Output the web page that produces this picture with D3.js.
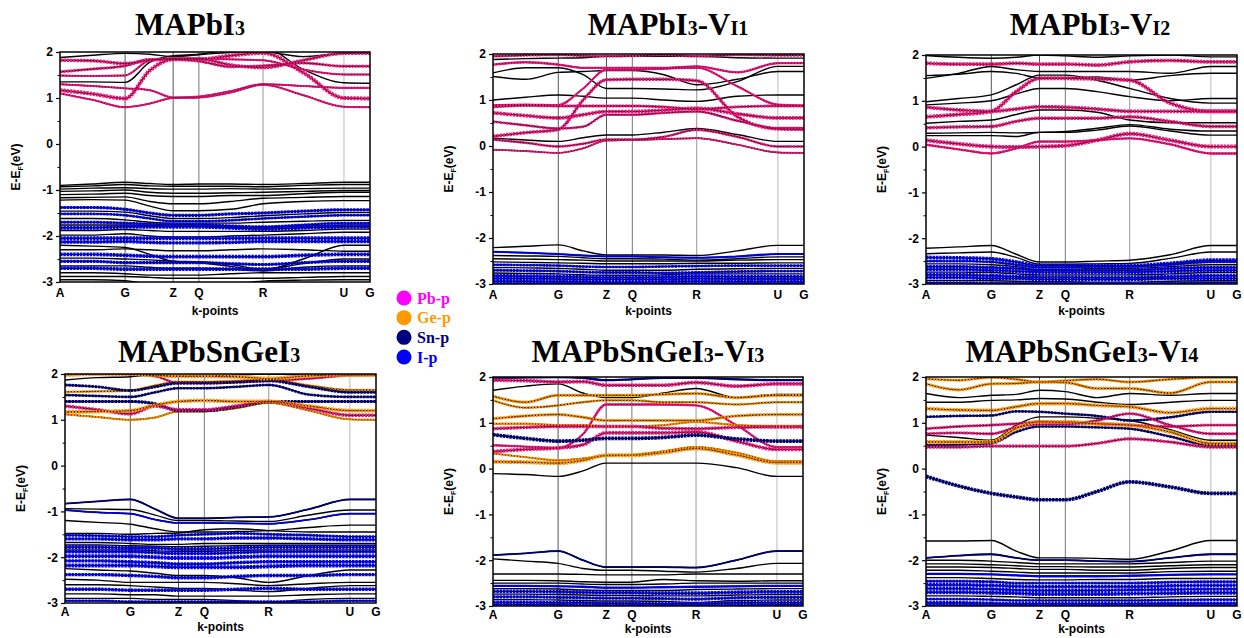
<!DOCTYPE html>
<html>
<head>
<meta charset="utf-8">
<script src="https://cdn.jsdelivr.net/npm/d3@7"></script>
<style>
  body { margin: 0; background: #fff; }
  svg text { font-family: Arial, "Liberation Sans", sans-serif; font-weight: bold; }
  .title { font-family: "Times New Roman", "Liberation Serif", serif; }
  .legend text { font-family: "Times New Roman", "Liberation Serif", serif; }
</style>
</head>
<body>
<svg id="fig" width="1244" height="638"></svg>
<script>
// Positions along the k-path (fraction of path length) where band energies are sampled
const kPath = [0, 0.105, 0.21, 0.29, 0.365, 0.448, 0.55, 0.655, 0.785, 0.916, 1];
// High-symmetry points
const kLabels = ["A", "G", "Z", "Q", "R", "U", "G"];
const kLabelPos = [0, 0.21, 0.365, 0.448, 0.655, 0.916, 1];
const energyTicks = [-3, -2, -1, 0, 1, 2];
const energyMinor = [-2.5, -1.5, -0.5, 0.5, 1.5];

// Orbital projections
const orbitalKeys = ["Pb", "Ge", "Sn", "I"];
const orbitalNames = ["Pb-p", "Ge-p", "Sn-p", "I-p"];

// Each band: [projected orbital ("-" = none), orbital weight, energies (eV) at kPath]
const bandsMAPbI3 = [
  ["Pb",0.3,[1.10,0.96,0.80,0.88,1.00,1.01,1.12,1.29,1.06,0.81,0.80]],
  ["Pb",1.0,[1.17,1.09,0.99,1.60,1.84,1.84,1.92,1.98,1.55,1.00,0.99]],
  ["Pb",0.3,[1.30,1.26,1.21,1.17,1.01,1.03,1.15,1.30,1.26,1.22,1.22]],
  ["-",0,[1.35,1.35,1.34,1.78,1.92,1.95,2.05,2.10,1.62,1.33,1.32]],
  ["Pb",0.3,[1.49,1.48,1.49,1.82,1.86,1.86,1.84,1.82,1.62,1.51,1.51]],
  ["Pb",0.6,[1.57,1.63,1.70,1.84,1.84,1.80,1.68,1.70,1.76,1.69,1.69]],
  ["Pb",0.8,[1.82,1.81,1.75,1.82,1.85,1.85,1.72,1.66,1.82,1.97,1.97]],
  ["-",0,[1.88,1.93,1.97,1.95,1.90,1.94,1.99,2.00,1.90,1.97,1.97]],
  ["-",0,[-0.90,-0.87,-0.83,-0.86,-0.88,-0.87,-0.87,-0.88,-0.86,-0.83,-0.83]],
  ["-",0,[-0.93,-0.91,-0.88,-0.91,-0.92,-0.92,-0.92,-0.93,-0.90,-0.88,-0.88]],
  ["-",0,[-0.98,-0.96,-0.95,-0.97,-0.98,-0.98,-0.97,-0.98,-0.97,-0.96,-0.96]],
  ["-",0,[-1.03,-1.02,-1.00,-1.05,-1.07,-1.07,-1.06,-1.05,-1.03,-1.01,-1.01]],
  ["-",0,[-1.10,-1.09,-1.07,-1.12,-1.14,-1.14,-1.12,-1.12,-1.08,-1.05,-1.05]],
  ["-",0,[-1.17,-1.16,-1.15,-1.25,-1.30,-1.30,-1.25,-1.18,-1.16,-1.14,-1.14]],
  ["-",0,[-1.22,-1.21,-1.22,-1.35,-1.45,-1.45,-1.42,-1.30,-1.25,-1.23,-1.23]],
  ["I",0.7,[-1.38,-1.38,-1.42,-1.50,-1.55,-1.55,-1.52,-1.50,-1.46,-1.43,-1.43]],
  ["-",0,[-1.46,-1.46,-1.48,-1.56,-1.62,-1.62,-1.60,-1.56,-1.52,-1.49,-1.49]],
  ["I",0.5,[-1.52,-1.52,-1.55,-1.62,-1.68,-1.68,-1.66,-1.62,-1.58,-1.55,-1.55]],
  ["-",0,[-1.62,-1.62,-1.65,-1.70,-1.72,-1.72,-1.72,-1.70,-1.68,-1.66,-1.66]],
  ["I",0.6,[-1.70,-1.70,-1.72,-1.74,-1.75,-1.75,-1.78,-1.80,-1.76,-1.72,-1.72]],
  ["-",0,[-1.76,-1.76,-1.76,-1.77,-1.78,-1.78,-1.80,-1.82,-1.79,-1.76,-1.76]],
  ["I",1.0,[-1.82,-1.82,-1.80,-1.80,-1.80,-1.80,-1.82,-1.85,-1.82,-1.80,-1.80]],
  ["-",0,[-1.88,-1.88,-1.86,-1.88,-1.90,-1.90,-1.90,-1.90,-1.88,-1.85,-1.85]],
  ["-",0,[-1.98,-1.98,-1.95,-2.00,-2.02,-2.02,-2.00,-1.98,-1.95,-1.92,-1.92]],
  ["I",1.0,[-2.05,-2.05,-2.05,-2.05,-2.05,-2.05,-2.05,-2.05,-2.05,-2.05,-2.05]],
  ["I",0.8,[-2.13,-2.13,-2.12,-2.14,-2.15,-2.15,-2.14,-2.12,-2.12,-2.12,-2.12]],
  ["-",0,[-2.20,-2.22,-2.25,-2.40,-2.55,-2.58,-2.66,-2.74,-2.50,-2.20,-2.20]],
  ["-",0,[-2.30,-2.30,-2.28,-2.30,-2.32,-2.32,-2.30,-2.28,-2.30,-2.33,-2.33]],
  ["I",0.9,[-2.40,-2.40,-2.42,-2.44,-2.45,-2.45,-2.45,-2.45,-2.42,-2.40,-2.40]],
  ["-",0,[-2.48,-2.48,-2.50,-2.52,-2.55,-2.56,-2.62,-2.72,-2.60,-2.50,-2.50]],
  ["I",0.7,[-2.55,-2.55,-2.58,-2.58,-2.58,-2.58,-2.60,-2.62,-2.58,-2.55,-2.55]],
  ["-",0,[-2.65,-2.65,-2.65,-2.68,-2.70,-2.70,-2.72,-2.76,-2.68,-2.65,-2.65]],
  ["I",0.9,[-2.70,-2.70,-2.72,-2.72,-2.72,-2.72,-2.72,-2.72,-2.72,-2.70,-2.70]],
  ["-",0,[-2.80,-2.80,-2.82,-2.85,-2.85,-2.85,-2.82,-2.80,-2.80,-2.80,-2.80]],
  ["-",0,[-2.88,-2.88,-2.88,-2.90,-2.92,-2.92,-2.92,-2.92,-2.90,-2.88,-2.88]],
  ["-",0,[-2.95,-2.95,-2.97,-3.05,-3.10,-3.10,-3.05,-2.98,-2.96,-2.95,-2.95]]
];

const bandsVI1 = [
  ["Pb",0.2,[-0.08,-0.11,-0.15,-0.05,0.12,0.13,0.15,0.17,0.03,-0.14,-0.15]],
  ["Pb",0.5,[0.14,0.07,-0.01,0.05,0.14,0.14,0.20,0.35,0.20,-0.01,-0.01]],
  ["-",0,[0.17,0.13,0.10,0.18,0.24,0.24,0.30,0.38,0.25,0.10,0.10]],
  ["Pb",0.8,[0.21,0.29,0.36,1.00,1.44,1.45,1.45,1.42,0.64,0.37,0.36]],
  ["Pb",0.5,[0.53,0.45,0.38,0.42,0.68,0.68,0.72,0.75,0.55,0.39,0.39]],
  ["Pb",0.9,[0.72,0.66,0.61,0.68,0.75,0.75,0.78,0.82,0.70,0.61,0.61]],
  ["Pb",0.6,[0.85,0.88,0.87,0.87,0.87,0.87,0.85,0.80,0.85,0.87,0.87]],
  ["Pb",0.3,[0.89,0.90,0.89,1.25,1.66,1.66,1.68,1.70,1.30,0.90,0.88]],
  ["-",0,[1.00,1.06,1.11,1.08,1.04,1.04,1.00,0.97,1.08,1.11,1.11]],
  ["-",0,[1.51,1.45,1.60,1.62,1.64,1.64,1.55,1.33,1.45,1.62,1.62]],
  ["-",0,[1.59,1.70,1.70,1.55,1.25,1.25,1.24,1.22,1.40,1.73,1.73]],
  ["Pb",0.4,[1.77,1.82,1.77,1.70,1.70,1.70,1.70,1.73,1.60,1.80,1.80]],
  ["-",0,[1.88,1.90,1.91,1.92,1.95,1.95,1.95,1.95,1.92,1.91,1.91]],
  ["Pb",0.5,[1.95,1.97,1.98,1.96,1.95,1.96,1.98,1.95,1.98,1.97,1.97]],
  ["-",0,[-2.21,-2.18,-2.15,-2.28,-2.37,-2.37,-2.37,-2.38,-2.28,-2.16,-2.16]],
  ["I",0.3,[-2.30,-2.32,-2.35,-2.38,-2.40,-2.40,-2.42,-2.43,-2.40,-2.35,-2.35]],
  ["-",0,[-2.38,-2.39,-2.40,-2.43,-2.45,-2.45,-2.46,-2.48,-2.45,-2.41,-2.41]],
  ["-",0,[-2.45,-2.46,-2.47,-2.48,-2.50,-2.50,-2.50,-2.50,-2.48,-2.47,-2.47]],
  ["-",0,[-2.52,-2.53,-2.54,-2.55,-2.56,-2.56,-2.56,-2.55,-2.55,-2.54,-2.54]],
  ["I",0.5,[-2.58,-2.59,-2.60,-2.62,-2.63,-2.63,-2.62,-2.61,-2.60,-2.60,-2.60]],
  ["-",0,[-2.64,-2.65,-2.66,-2.68,-2.70,-2.70,-2.70,-2.68,-2.67,-2.66,-2.66]],
  ["I",0.6,[-2.70,-2.71,-2.72,-2.74,-2.75,-2.75,-2.76,-2.75,-2.73,-2.72,-2.72]],
  ["-",0,[-2.76,-2.77,-2.78,-2.80,-2.81,-2.81,-2.80,-2.78,-2.78,-2.78,-2.78]],
  ["I",1.0,[-2.82,-2.83,-2.84,-2.85,-2.86,-2.86,-2.85,-2.83,-2.84,-2.84,-2.84]],
  ["I",1.0,[-2.88,-2.88,-2.89,-2.90,-2.90,-2.90,-2.90,-2.88,-2.89,-2.89,-2.89]],
  ["I",0.8,[-2.94,-2.94,-2.95,-2.95,-2.96,-2.96,-2.95,-2.94,-2.95,-2.95,-2.95]],
  ["I",0.5,[-2.99,-2.99,-2.99,-2.99,-2.99,-2.99,-2.99,-2.99,-2.99,-2.99,-2.99]]
];

const bandsVI2 = [
  ["Pb",0.4,[0.04,-0.06,-0.15,-0.04,0.11,0.11,0.14,0.18,0.05,-0.15,-0.15]],
  ["Pb",1.0,[0.14,0.06,0.00,-0.01,0.00,0.02,0.14,0.28,0.14,0.00,0.00]],
  ["-",0,[0.24,0.24,0.24,0.22,0.31,0.31,0.36,0.45,0.34,0.25,0.25]],
  ["-",0,[0.29,0.30,0.31,0.30,0.31,0.33,0.40,0.48,0.38,0.34,0.34]],
  ["Pb",0.8,[0.41,0.43,0.44,0.55,0.62,0.62,0.62,0.65,0.55,0.44,0.44]],
  ["-",0,[0.51,0.55,0.58,0.70,0.80,0.80,0.75,0.58,0.52,0.52,0.52]],
  ["Pb",1.0,[0.65,0.70,0.77,1.20,1.49,1.49,1.48,1.45,0.95,0.77,0.77]],
  ["Pb",0.9,[0.86,0.80,0.77,0.82,0.87,0.86,0.82,0.77,0.77,0.77,0.77]],
  ["-",0,[0.91,0.95,1.00,1.15,1.27,1.27,1.20,1.09,1.00,1.05,1.05]],
  ["-",0,[0.98,1.05,1.13,1.35,1.56,1.56,1.45,1.27,1.05,0.95,0.95]],
  ["-",0,[1.49,1.60,1.75,1.68,1.64,1.64,1.64,1.64,1.60,1.75,1.75]],
  ["-",0,[1.55,1.58,1.64,1.60,1.50,1.50,1.52,1.45,1.55,1.60,1.60]],
  ["Pb",0.9,[1.82,1.80,1.80,1.82,1.80,1.80,1.78,1.85,1.88,1.85,1.85]],
  ["-",0,[1.99,1.95,1.93,1.95,2.00,1.98,1.95,1.98,2.00,1.96,1.96]],
  ["-",0,[-2.22,-2.19,-2.16,-2.35,-2.52,-2.52,-2.50,-2.48,-2.36,-2.16,-2.16]],
  ["-",0,[-2.34,-2.32,-2.30,-2.42,-2.57,-2.57,-2.56,-2.55,-2.44,-2.30,-2.30]],
  ["I",0.9,[-2.42,-2.43,-2.45,-2.52,-2.60,-2.60,-2.60,-2.60,-2.55,-2.48,-2.48]],
  ["I",0.5,[-2.50,-2.50,-2.52,-2.58,-2.64,-2.64,-2.62,-2.62,-2.58,-2.52,-2.52]],
  ["-",0,[-2.56,-2.56,-2.58,-2.62,-2.68,-2.68,-2.66,-2.66,-2.62,-2.58,-2.58]],
  ["I",0.7,[-2.62,-2.62,-2.64,-2.66,-2.70,-2.70,-2.70,-2.70,-2.66,-2.64,-2.64]],
  ["I",1.0,[-2.68,-2.68,-2.70,-2.72,-2.74,-2.74,-2.74,-2.74,-2.72,-2.70,-2.70]],
  ["-",0,[-2.74,-2.74,-2.75,-2.78,-2.80,-2.80,-2.80,-2.80,-2.78,-2.75,-2.75]],
  ["I",1.0,[-2.80,-2.80,-2.82,-2.84,-2.85,-2.85,-2.86,-2.86,-2.84,-2.82,-2.82]],
  ["I",0.8,[-2.86,-2.86,-2.88,-2.88,-2.90,-2.90,-2.90,-2.90,-2.88,-2.88,-2.88]],
  ["-",0,[-2.92,-2.92,-2.93,-2.94,-2.95,-2.95,-2.96,-2.96,-2.94,-2.93,-2.93]],
  ["I",0.6,[-2.97,-2.97,-2.98,-2.98,-2.99,-2.99,-2.99,-2.99,-2.98,-2.97,-2.97]]
];

const bandsMAPbSnGeI3 = [
  ["Ge",0.3,[1.12,1.06,1.00,1.05,1.18,1.18,1.25,1.37,1.20,1.01,1.00]],
  ["Ge",0.9,[1.17,1.18,1.20,1.32,1.40,1.42,1.40,1.40,1.30,1.20,1.20]],
  ["Pb",0.8,[1.30,1.22,1.13,1.30,1.22,1.22,1.30,1.40,1.25,1.10,1.10]],
  ["Sn",0.7,[1.40,1.40,1.40,1.35,1.20,1.20,1.28,1.39,1.40,1.40,1.40]],
  ["Sn",0.5,[1.54,1.52,1.50,1.60,1.69,1.69,1.72,1.76,1.55,1.50,1.50]],
  ["Ge",0.5,[1.61,1.62,1.64,1.75,1.83,1.83,1.85,1.88,1.75,1.65,1.65]],
  ["Sn",0.6,[1.76,1.72,1.64,1.72,1.80,1.80,1.82,1.85,1.72,1.60,1.60]],
  ["-",0,[1.87,1.92,1.94,1.98,1.95,1.95,1.98,2.00,1.98,1.98,1.98]],
  ["Ge",1.0,[1.98,2.00,2.00,1.97,1.95,1.95,1.94,1.90,1.96,1.98,1.98]],
  ["Pb",0.5,[2.05,2.02,1.99,1.95,1.80,1.80,1.82,1.85,1.90,1.97,1.98]],
  ["Sn",0.2,[-0.83,-0.78,-0.74,-0.95,-1.15,-1.15,-1.13,-1.12,-0.95,-0.74,-0.74]],
  ["-",0,[-0.94,-0.95,-0.96,-1.08,-1.20,-1.20,-1.21,-1.22,-1.08,-0.97,-0.97]],
  ["I",0.2,[-0.97,-1.02,-1.05,-1.18,-1.25,-1.25,-1.26,-1.27,-1.18,-1.05,-1.05]],
  ["-",0,[-1.20,-1.24,-1.28,-1.38,-1.45,-1.45,-1.44,-1.42,-1.35,-1.30,-1.30]],
  ["-",0,[-1.48,-1.48,-1.50,-1.48,-1.47,-1.40,-1.38,-1.42,-1.45,-1.45,-1.45]],
  ["I",0.6,[-1.52,-1.53,-1.55,-1.55,-1.52,-1.50,-1.48,-1.50,-1.52,-1.55,-1.55]],
  ["I",0.8,[-1.60,-1.60,-1.62,-1.62,-1.60,-1.60,-1.58,-1.58,-1.60,-1.62,-1.62]],
  ["-",0,[-1.68,-1.68,-1.70,-1.72,-1.72,-1.70,-1.70,-1.70,-1.70,-1.70,-1.70]],
  ["-",0,[-1.73,-1.73,-1.75,-1.76,-1.77,-1.76,-1.75,-1.74,-1.74,-1.74,-1.74]],
  ["I",1.0,[-1.78,-1.78,-1.80,-1.80,-1.82,-1.82,-1.80,-1.78,-1.78,-1.78,-1.78]],
  ["-",0,[-1.84,-1.84,-1.84,-1.86,-1.87,-1.87,-1.85,-1.84,-1.84,-1.84,-1.84]],
  ["I",0.8,[-1.88,-1.88,-1.88,-1.90,-1.92,-1.92,-1.90,-1.88,-1.88,-1.88,-1.88]],
  ["I",1.0,[-1.98,-1.98,-1.98,-2.00,-2.02,-2.02,-2.00,-1.98,-1.98,-1.98,-1.98]],
  ["I",0.8,[-2.08,-2.08,-2.10,-2.12,-2.15,-2.15,-2.12,-2.10,-2.10,-2.10,-2.10]],
  ["I",1.0,[-2.18,-2.18,-2.18,-2.20,-2.22,-2.22,-2.22,-2.20,-2.18,-2.18,-2.18]],
  ["-",0,[-2.25,-2.28,-2.30,-2.35,-2.40,-2.40,-2.45,-2.55,-2.40,-2.28,-2.28]],
  ["I",0.8,[-2.38,-2.38,-2.40,-2.42,-2.45,-2.45,-2.42,-2.40,-2.40,-2.38,-2.38]],
  ["-",0,[-2.48,-2.50,-2.55,-2.55,-2.55,-2.55,-2.58,-2.62,-2.58,-2.55,-2.55]],
  ["-",0,[-2.60,-2.60,-2.62,-2.65,-2.68,-2.68,-2.72,-2.75,-2.68,-2.62,-2.62]],
  ["I",0.8,[-2.70,-2.70,-2.72,-2.72,-2.72,-2.72,-2.70,-2.68,-2.70,-2.70,-2.70]],
  ["-",0,[-2.80,-2.80,-2.82,-2.82,-2.85,-2.85,-2.85,-2.85,-2.82,-2.80,-2.80]],
  ["-",0,[-2.90,-2.90,-2.90,-2.92,-2.92,-2.92,-2.95,-2.98,-2.92,-2.90,-2.90]],
  ["I",0.5,[-2.95,-2.95,-2.97,-2.97,-2.97,-2.97,-2.97,-2.97,-2.97,-2.95,-2.95]]
];

const bandsVI3 = [
  ["-",0,[-0.11,-0.13,-0.17,-0.05,0.12,0.12,0.12,0.12,0.02,-0.17,-0.17]],
  ["Ge",1.0,[0.15,0.14,0.12,0.18,0.29,0.29,0.35,0.44,0.30,0.13,0.13]],
  ["Ge",0.3,[0.33,0.25,0.18,0.22,0.28,0.30,0.38,0.47,0.35,0.16,0.16]],
  ["Pb",0.9,[0.37,0.42,0.45,0.52,0.78,0.78,0.78,0.80,0.60,0.42,0.42]],
  ["Pb",0.4,[0.51,0.48,0.45,0.75,1.40,1.40,1.40,1.38,0.95,0.47,0.47]],
  ["Sn",0.9,[0.74,0.66,0.60,0.62,0.66,0.66,0.68,0.73,0.65,0.60,0.60]],
  ["Pb",0.8,[0.87,0.90,0.92,0.92,0.92,0.92,0.88,0.87,0.90,0.91,0.91]],
  ["Ge",0.4,[0.98,0.98,0.95,0.95,0.92,0.92,0.95,1.02,0.95,0.93,0.93]],
  ["Ge",0.7,[1.09,1.15,1.18,1.12,1.05,1.05,1.05,1.05,1.15,1.18,1.18]],
  ["Ge",0.5,[1.49,1.33,1.38,1.45,1.49,1.49,1.45,1.45,1.40,1.45,1.45]],
  ["Ge",0.7,[1.58,1.45,1.60,1.60,1.60,1.60,1.62,1.64,1.55,1.60,1.60]],
  ["-",0,[1.71,1.80,1.85,1.65,1.55,1.55,1.65,1.75,1.55,1.62,1.62]],
  ["Pb",0.9,[1.93,1.92,1.89,1.90,1.82,1.82,1.82,1.88,1.80,1.85,1.85]],
  ["Sn",0.4,[1.97,1.99,2.00,1.98,1.93,1.95,1.98,1.98,1.95,1.93,1.93]],
  ["Sn",0.2,[-1.89,-1.85,-1.80,-2.00,-2.15,-2.15,-2.15,-2.16,-2.00,-1.80,-1.80]],
  ["-",0,[-1.97,-2.02,-2.07,-2.18,-2.22,-2.22,-2.24,-2.26,-2.18,-2.07,-2.07]],
  ["-",0,[-2.30,-2.30,-2.30,-2.31,-2.32,-2.32,-2.32,-2.30,-2.30,-2.30,-2.30]],
  ["-",0,[-2.44,-2.44,-2.45,-2.47,-2.48,-2.48,-2.42,-2.45,-2.46,-2.45,-2.45]],
  ["-",0,[-2.50,-2.50,-2.50,-2.52,-2.53,-2.53,-2.52,-2.50,-2.50,-2.50,-2.50]],
  ["I",0.4,[-2.56,-2.56,-2.57,-2.58,-2.60,-2.60,-2.59,-2.58,-2.57,-2.56,-2.56]],
  ["-",0,[-2.62,-2.62,-2.63,-2.65,-2.66,-2.66,-2.66,-2.64,-2.63,-2.62,-2.62]],
  ["I",0.9,[-2.68,-2.68,-2.69,-2.70,-2.71,-2.71,-2.72,-2.72,-2.70,-2.69,-2.69]],
  ["-",0,[-2.74,-2.74,-2.75,-2.76,-2.77,-2.77,-2.78,-2.78,-2.76,-2.75,-2.75]],
  ["I",0.7,[-2.80,-2.80,-2.81,-2.82,-2.83,-2.83,-2.84,-2.85,-2.82,-2.81,-2.81]],
  ["-",0,[-2.86,-2.86,-2.87,-2.88,-2.89,-2.89,-2.90,-2.92,-2.88,-2.87,-2.87]],
  ["I",0.8,[-2.92,-2.92,-2.93,-2.93,-2.94,-2.94,-2.95,-2.95,-2.93,-2.93,-2.93]],
  ["I",1.0,[-2.97,-2.97,-2.97,-2.98,-2.98,-2.98,-2.98,-2.98,-2.98,-2.97,-2.97]]
];

const bandsVI4 = [
  ["Sn",0.9,[-0.17,-0.38,-0.54,-0.62,-0.68,-0.68,-0.50,-0.29,-0.40,-0.54,-0.54]],
  ["Pb",0.7,[0.47,0.47,0.49,0.49,0.49,0.49,0.55,0.65,0.58,0.47,0.47]],
  ["Sn",0.5,[0.51,0.52,0.55,0.80,0.92,0.92,0.90,0.87,0.70,0.51,0.51]],
  ["Ge",1.0,[0.58,0.58,0.58,0.88,1.02,1.02,0.98,0.95,0.80,0.55,0.55]],
  ["-",0,[0.73,0.68,0.62,0.95,1.13,1.13,1.10,1.05,0.85,0.62,0.62]],
  ["Pb",0.6,[0.76,0.78,0.76,0.90,0.97,0.97,1.05,1.20,0.95,0.76,0.76]],
  ["Pb",0.6,[0.87,0.92,0.95,0.98,1.02,1.00,0.98,0.95,0.92,0.95,0.95]],
  ["Sn",0.5,[1.13,1.15,1.16,1.25,1.24,1.20,1.15,1.05,1.12,1.24,1.24]],
  ["Ge",0.9,[1.31,1.28,1.27,1.35,1.42,1.42,1.38,1.35,1.22,1.31,1.31]],
  ["-",0,[1.45,1.45,1.49,1.50,1.53,1.52,1.45,1.40,1.45,1.49,1.49]],
  ["-",0,[1.64,1.55,1.60,1.62,1.71,1.68,1.55,1.64,1.60,1.64,1.64]],
  ["Ge",0.7,[1.85,1.72,1.85,1.86,1.89,1.88,1.75,1.75,1.65,1.89,1.89]],
  ["Ge",0.6,[1.96,1.93,1.99,1.95,1.89,1.92,1.95,1.89,1.95,1.99,1.99]],
  ["-",0,[-1.58,-1.58,-1.57,-1.80,-1.95,-1.95,-1.96,-1.98,-1.80,-1.57,-1.57]],
  ["Sn",0.2,[-1.95,-1.90,-1.87,-1.95,-2.00,-2.00,-2.02,-2.03,-1.95,-1.87,-1.87]],
  ["-",0,[-2.00,-2.00,-2.02,-2.05,-2.08,-2.08,-2.08,-2.08,-2.05,-2.02,-2.02]],
  ["-",0,[-2.08,-2.08,-2.10,-2.12,-2.14,-2.14,-2.15,-2.15,-2.12,-2.10,-2.10]],
  ["-",0,[-2.15,-2.15,-2.16,-2.18,-2.20,-2.20,-2.22,-2.22,-2.18,-2.16,-2.16]],
  ["-",0,[-2.22,-2.22,-2.24,-2.26,-2.28,-2.28,-2.28,-2.28,-2.25,-2.24,-2.24]],
  ["I",0.4,[-2.30,-2.30,-2.31,-2.33,-2.35,-2.35,-2.35,-2.34,-2.32,-2.31,-2.31]],
  ["-",0,[-2.38,-2.38,-2.40,-2.42,-2.43,-2.43,-2.42,-2.42,-2.40,-2.40,-2.40]],
  ["I",0.6,[-2.46,-2.46,-2.47,-2.50,-2.50,-2.50,-2.50,-2.50,-2.48,-2.47,-2.47]],
  ["I",0.9,[-2.54,-2.54,-2.55,-2.57,-2.58,-2.58,-2.58,-2.58,-2.56,-2.55,-2.55]],
  ["I",0.7,[-2.62,-2.62,-2.63,-2.65,-2.66,-2.66,-2.66,-2.65,-2.64,-2.63,-2.63]],
  ["I",1.0,[-2.70,-2.70,-2.71,-2.72,-2.74,-2.74,-2.74,-2.73,-2.72,-2.71,-2.71]],
  ["-",0,[-2.78,-2.78,-2.79,-2.80,-2.82,-2.82,-2.82,-2.82,-2.80,-2.79,-2.79]],
  ["I",0.5,[-2.85,-2.85,-2.86,-2.88,-2.88,-2.88,-2.88,-2.88,-2.87,-2.86,-2.86]],
  ["I",0.8,[-2.93,-2.93,-2.94,-2.95,-2.95,-2.95,-2.95,-2.95,-2.94,-2.94,-2.94]],
  ["I",1.0,[-2.98,-2.98,-2.98,-2.98,-2.99,-2.99,-2.99,-2.99,-2.98,-2.98,-2.98]]
];

// Panel layout (titles as [text, small?] runs)
const panels = [
  { title: [["MAPbI",0],["3",1]], bands: bandsMAPbI3, x0: 60,  x1: 370,  y0: 52,  y1: 282, tx: 190,  ty: 35, ly: 15, ky: 33 },
  { title: [["MAPbI",0],["3",1],["-V",0],["I1",1]], bands: bandsVI1, x0: 493, x1: 804, y0: 54, y1: 284, tx: 668, ty: 35, ly: 15, ky: 31 },
  { title: [["MAPbI",0],["3",1],["-V",0],["I2",1]], bands: bandsVI2, x0: 926, x1: 1237, y0: 55, y1: 284, tx: 1090, ty: 35, ly: 15, ky: 31 },
  { title: [["MAPbSnGeI",0],["3",1]], bands: bandsMAPbSnGeI3, x0: 65, x1: 376, y0: 374, y1: 603, tx: 209, ty: 362, ly: 13, ky: 28 },
  { title: [["MAPbSnGeI",0],["3",1],["-V",0],["I3",1]], bands: bandsVI3, x0: 493, x1: 803, y0: 377, y1: 606, tx: 648, ty: 362, ly: 13, ky: 27 },
  { title: [["MAPbSnGeI",0],["3",1],["-V",0],["I4",1]], bands: bandsVI4, x0: 926, x1: 1237, y0: 377, y1: 606, tx: 1082, ty: 362, ly: 13, ky: 27 }
];

const bandColor = { Pb: "#f7167f", Ge: "#ff9400", Sn: "#000080", I: "#0000ff" };
const legendColor = { Pb: "#ff00ff", Ge: "#ff9900", Sn: "#000080", I: "#0000ff" };
const kLineColor = ["#555", "#555", "#777", "#999", "#bbb"];

const svg = d3.select("#fig");

panels.forEach((p, i) => {
  const x = d3.scaleLinear().domain([0, 1]).range([p.x0, p.x1]);
  const y = d3.scaleLinear().domain([-3, 2]).range([p.y1, p.y0]);
  const g = svg.append("g");

  g.append("clipPath").attr("id", "clip" + i)
    .append("rect").attr("x", p.x0).attr("y", p.y0)
    .attr("width", p.x1 - p.x0).attr("height", p.y1 - p.y0);

  const plot = g.append("g").attr("clip-path", `url(#clip${i})`);

  // vertical lines at interior high-symmetry points
  plot.selectAll("line.kline").data(kLabelPos.slice(1, 6)).join("line")
    .attr("class", "kline")
    .attr("x1", d => x(d)).attr("x2", d => x(d))
    .attr("y1", p.y0).attr("y2", p.y1)
    .attr("stroke", (d, j) => kLineColor[j]).attr("stroke-width", 1);

  const line = d3.line()
    .x((d, j) => x(kPath[j]))
    .y(d => y(d))
    .curve(d3.curveMonotoneX);

  const bands = p.bands.map(([orb, wt, e]) => ({ orb, wt, e }));
  const proj = bands.filter(b => b.orb !== "-").sort((a, b) => a.wt - b.wt);

  plot.selectAll("path.base").data(bands).join("path")
    .attr("class", "base")
    .attr("d", d => line(d.e))
    .attr("fill", "none").attr("stroke", "#000").attr("stroke-width", 1.4);

  // projected orbital weight drawn as a coloured band, dotted on top
  plot.selectAll("path.proj").data(proj).join("path")
    .attr("class", "proj")
    .attr("d", d => line(d.e))
    .attr("fill", "none")
    .attr("stroke", d => bandColor[d.orb])
    .attr("stroke-width", d => 1.2 + 2.8 * d.wt)
    .attr("stroke-dasharray", d => d.wt > 0.45 ? "2.5,0.8" : null);

  plot.selectAll("path.dots").data(proj).join("path")
    .attr("class", "dots")
    .attr("d", d => line(d.e))
    .attr("fill", "none").attr("stroke", "#000")
    .attr("stroke-width", 0.9).attr("stroke-dasharray", "1,2").attr("opacity", 0.85);

  // frame
  g.append("rect").attr("x", p.x0).attr("y", p.y0)
    .attr("width", p.x1 - p.x0).attr("height", p.y1 - p.y0)
    .attr("fill", "none").attr("stroke", "#000").attr("stroke-width", 1.5);

  // energy axis
  const ax = g.append("g").attr("transform", `translate(${p.x0},0)`)
    .call(d3.axisLeft(y).tickValues(energyTicks).tickSize(4).tickPadding(3).tickFormat(d => String(d)));
  ax.select(".domain").remove();
  ax.selectAll("line").attr("stroke-width", 1.2);
  ax.selectAll("text").attr("font-size", 12).attr("fill", "#000");
  const axm = g.append("g").attr("transform", `translate(${p.x0},0)`)
    .call(d3.axisLeft(y).tickValues(energyMinor).tickSize(2.5).tickFormat(""));
  axm.select(".domain").remove();

  // k-point labels
  g.selectAll("text.klab").data(kLabels).join("text")
    .attr("class", "klab")
    .attr("x", (d, j) => x(kLabelPos[j])).attr("y", p.y1 + p.ly)
    .attr("text-anchor", "middle").attr("font-size", 12).text(d => d);

  g.append("text").attr("x", (p.x0 + p.x1) / 2).attr("y", p.y1 + p.ky)
    .attr("text-anchor", "middle").attr("font-size", 12).text("k-points");

  // energy axis title
  const yl = g.append("text")
    .attr("transform", `translate(${p.x0 - 40},${(p.y0 + p.y1) / 2}) rotate(-90)`)
    .attr("text-anchor", "middle").attr("font-size", 12);
  yl.append("tspan").text("E-E");
  yl.append("tspan").attr("font-size", 7).attr("dy", 3).text("F");
  yl.append("tspan").attr("dy", -3).text("(eV)");

  // title
  const t = g.append("text").attr("class", "title")
    .attr("x", p.tx).attr("y", p.ty).attr("text-anchor", "middle")
    .attr("font-size", 31);
  p.title.forEach(([s, small]) => {
    t.append("tspan").attr("font-size", small ? 20 : 31).text(s);
  });
});

// legend
const lg = svg.append("g").attr("class", "legend");
const legendY = d3.scalePoint().domain(orbitalKeys).range([298, 357]);
lg.selectAll("circle").data(orbitalKeys).join("circle")
  .attr("cx", 404).attr("cy", d => legendY(d)).attr("r", 7.5)
  .attr("fill", d => legendColor[d]);
lg.selectAll("text").data(orbitalKeys).join("text")
  .attr("x", 417).attr("y", d => legendY(d) + 5.5)
  .attr("font-size", 16).attr("fill", d => legendColor[d])
  .text((d, j) => orbitalNames[j]);
</script>
</body>
</html>
